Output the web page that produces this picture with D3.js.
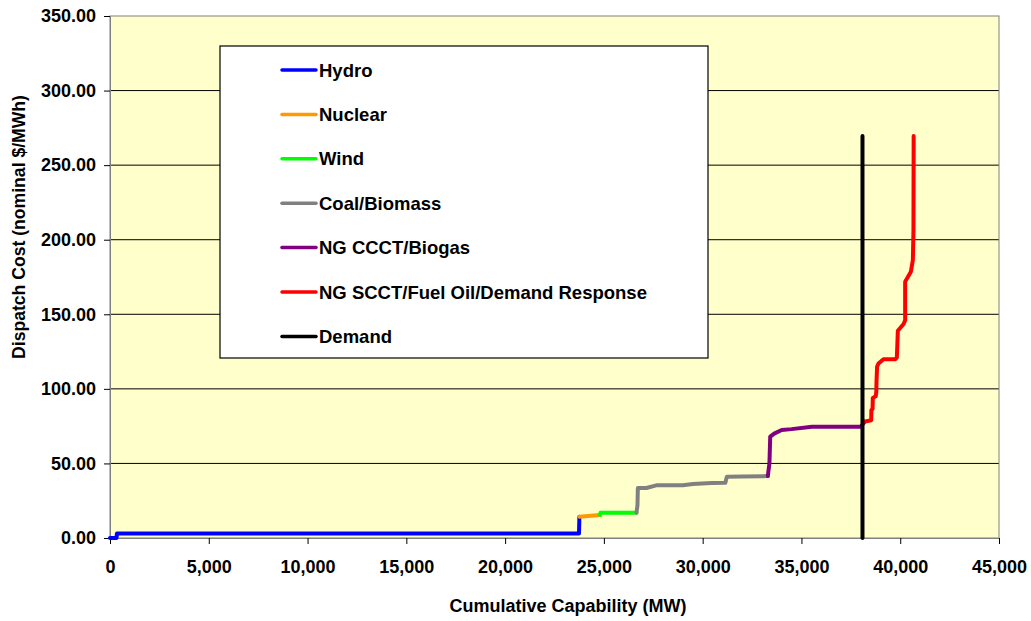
<!DOCTYPE html>
<html>
<head>
<meta charset="utf-8">
<script src="https://cdn.jsdelivr.net/npm/d3@7"></script>
<style>
    body { margin: 0; background: #ffffff; }
    text { font-family: "Liberation Sans", Arial, sans-serif; font-weight: bold; fill: #000; }
</style>
</head>
<body>
<div id="chart"></div>
<script>
// supply stack, [cumulative MW, dispatch cost $/MWh]
const hydro = [[0, 0], [330, 0], [350, 3.0], [23740, 3.0], [23760, 14.3]];
const nuclear = [[23760, 14.3], [24800, 15.5]];
const wind = [[24800, 15.5], [24830, 17.0], [26650, 17.0]];
const coalBiomass = [[26650, 17.0], [26700, 22], [26720, 33.5], [27150, 33.5], [27650, 35.3], [29000, 35.3],
    [29500, 36.2], [30450, 36.9], [31150, 37.1], [31220, 41.0], [32000, 41.3], [33300, 41.5]];
const ngCCCT = [[33300, 41.5], [33330, 45], [33380, 50], [33420, 68], [33620, 70], [34000, 72.4],
    [34500, 73], [35530, 74.6], [38000, 74.6], [38200, 78]];
const ngSCCT = [[38200, 78], [38530, 79], [38540, 85.8], [38600, 86.5], [38610, 93.9], [38760, 95],
    [38790, 98.1], [38800, 105], [38830, 114.9], [38900, 117], [39150, 119.8], [39740, 119.8],
    [39830, 121], [39880, 139], [40170, 143.5], [40250, 146], [40250, 171.9], [40540, 178.6],
    [40640, 186.4], [40670, 206.5], [40680, 269.5]];
const demand = [[38090, 0], [38090, 269.5]];

const seriesNames = ["Hydro", "Nuclear", "Wind", "Coal/Biomass", "NG CCCT/Biogas",
    "NG SCCT/Fuel Oil/Demand Response", "Demand"];
const seriesColors = ["#0000ff", "#ff9900", "#00ff00", "#808080", "#800080", "#ff0000", "#000000"];
const seriesData = [hydro, nuclear, wind, coalBiomass, ngCCCT, ngSCCT, demand];

const xTicks = [0, 5000, 10000, 15000, 20000, 25000, 30000, 35000, 40000, 45000];
const yTicks = [0, 50, 100, 150, 200, 250, 300, 350];

const dimensions = {
    width: 1031,
    height: 621,
    margin: { top: 16, right: 32, bottom: 83, left: 110 }
};
const plotW = dimensions.width - dimensions.margin.left - dimensions.margin.right;
const plotH = dimensions.height - dimensions.margin.top - dimensions.margin.bottom;

const wrapper = d3.select("#chart")
    .append("svg")
    .attr("width", dimensions.width)
    .attr("height", dimensions.height)

const bounds = wrapper.append("g")
    .attr("transform", `translate(${dimensions.margin.left},${dimensions.margin.top})`)

const xScale = d3.scaleLinear().domain([0, 45000]).range([0, plotW])
const yScale = d3.scaleLinear().domain([0, 350]).range([plotH, 0])

//plot background
bounds.append("rect")
    .attr("width", plotW)
    .attr("height", plotH)
    .style("fill", "#ffffcc")

//gridlines
bounds.selectAll(".grid")
    .data(yTicks.slice(1, -1))
    .enter().append("line")
    .attr("x1", 0)
    .attr("x2", plotW)
    .attr("y1", d => yScale(d))
    .attr("y2", d => yScale(d))
    .style("stroke", "#000")
    .style("stroke-width", 1)

//border
bounds.append("rect")
    .attr("width", plotW)
    .attr("height", plotH)
    .style("fill", "none")
    .style("stroke", "#808080")

//axes
const xAxis = bounds.append("g")
    .attr("transform", `translate(0,${plotH})`)
    .call(d3.axisBottom(xScale).tickValues(xTicks).tickSize(6).tickPadding(16)
        .tickFormat(d3.format(",")))
const yAxis = bounds.append("g")
    .call(d3.axisLeft(yScale).tickValues(yTicks).tickSize(6).tickPadding(8)
        .tickFormat(d3.format(".2f")))

bounds.selectAll(".domain").style("stroke", "#808080")
bounds.selectAll(".tick line").style("stroke", "#000")
bounds.selectAll(".tick text")
    .style("font-size", "18px")
    .style("font-family", "'Liberation Sans', Arial, sans-serif")
    .style("font-weight", "bold")

//supply curve segments
const line = d3.line()
    .x(d => xScale(d[0]))
    .y(d => yScale(d[1]))

bounds.selectAll(".series")
    .data(seriesData)
    .enter().append("path")
    .attr("d", line)
    .style("fill", "none")
    .style("stroke", (d, i) => seriesColors[i])
    .style("stroke-width", 4)
    .style("stroke-linejoin", "round")
    .style("stroke-linecap", "round")

//legend
const legend = wrapper.append("g")
    .attr("transform", "translate(220,46)")

legend.append("rect")
    .attr("width", 488)
    .attr("height", 312)
    .style("fill", "#ffffff")
    .style("stroke", "#000")
    .style("stroke-width", 1.2)

const legendItem = legend.selectAll(".item")
    .data(seriesNames)
    .enter().append("g")
    .attr("transform", (d, i) => `translate(0,${24 + i * 44.4})`)

legendItem.append("line")
    .attr("x1", 62)
    .attr("x2", 96)
    .style("stroke", (d, i) => seriesColors[i])
    .style("stroke-width", 3.5)
    .style("stroke-linecap", "round")

legendItem.append("text")
    .attr("x", 99)
    .attr("dy", "0.36em")
    .style("font-size", "18.5px")
    .text(d => d)

//axis titles
wrapper.append("text")
    .attr("x", 568)
    .attr("y", 612)
    .attr("text-anchor", "middle")
    .style("font-size", "18px")
    .text("Cumulative Capability (MW)")

wrapper.append("text")
    .attr("transform", "translate(25,227) rotate(-90)")
    .attr("text-anchor", "middle")
    .style("font-size", "17.6px")
    .text("Dispatch Cost (nominal $/MWh)")
</script>
</body>
</html>
